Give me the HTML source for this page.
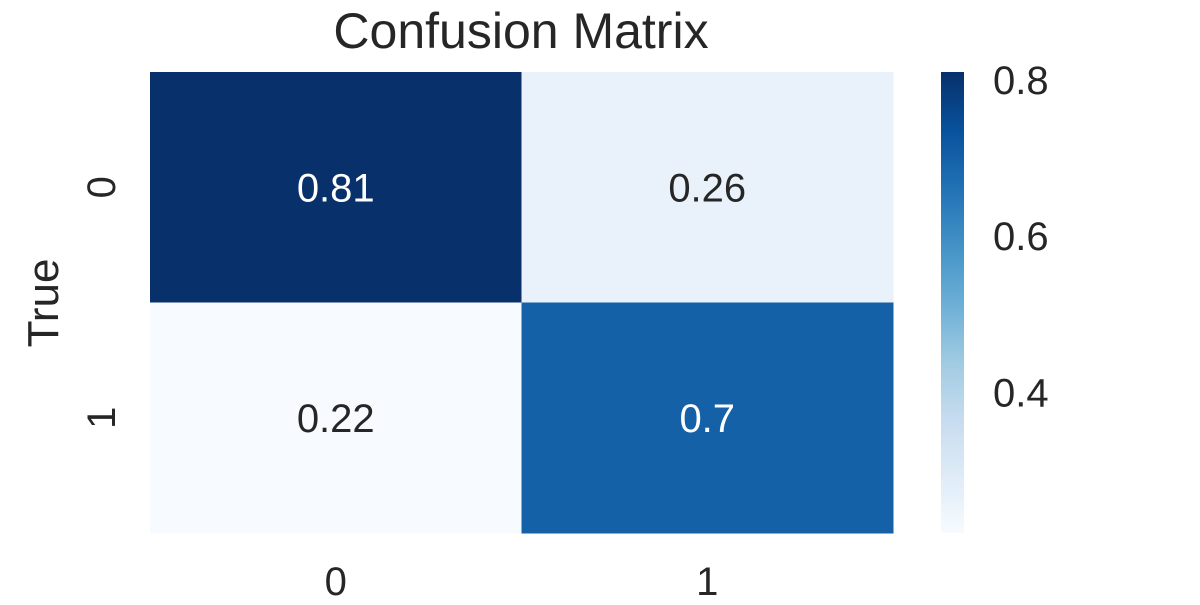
<!DOCTYPE html>
<html><head><meta charset="utf-8"><style>
body{margin:0;background:#fff;}
svg text{font-family:"Liberation Sans",Arial,sans-serif;fill:#262626;}
</style></head><body>
<svg id="chart" width="1200" height="600">
<defs><linearGradient id="cbgrad" x1="0" y1="1" x2="0" y2="0"></linearGradient></defs>
<text x="521" y="48" font-size="50" text-anchor="middle">Confusion Matrix</text>
<g id="cells"></g>
<g id="ticks"></g>
<text transform="translate(58,303) rotate(-90)" font-size="44" text-anchor="middle">True</text>
<rect x="941" y="72" width="23" height="461" fill="url(#cbgrad)"/>
<g id="cbticks"></g>
</svg>
<script>
const rowLabels=["0","1"];
const colLabels=["0","1"];
const values=[[0.81,0.26],[0.22,0.70]];
const cbTicks=[0.4,0.6,0.8];
const ns="http://www.w3.org/2000/svg";
const stops=["#f7fbff","#deebf7","#c6dbef","#9ecae1","#6baed6","#4292c6","#2171b5","#08519c","#08306b"];
const flat=values.flat();
const vmin=Math.min(...flat),vmax=Math.max(...flat);
function hex(h){return [1,3,5].map(i=>parseInt(h.substr(i,2),16));}
function blues(t){t=Math.max(0,Math.min(1,t));const p=t*(stops.length-1);const i=Math.min(Math.floor(p),stops.length-2);const f=p-i;const a=hex(stops[i]),b=hex(stops[i+1]);return "rgb("+a.map((v,k)=>Math.round(v+(b[k]-v)*f)).join(",")+")";}
const X0=150,X1=893,Y0=72,Y1=533;
const cw=(X1-X0)/colLabels.length,ch=(Y1-Y0)/rowLabels.length;
const cells=document.getElementById('cells'),ticks=document.getElementById('ticks');
values.forEach((row,r)=>row.forEach((v,c)=>{
 const t=(v-vmin)/(vmax-vmin);
 const rect=document.createElementNS(ns,'rect');
 rect.setAttribute('x',X0+c*cw);rect.setAttribute('y',Y0+r*ch);
 rect.setAttribute('width',cw+0.5);rect.setAttribute('height',ch+0.5);
 rect.setAttribute('fill',blues(t));
 
 
 cells.appendChild(rect);
 const tx=document.createElementNS(ns,'text');
 tx.setAttribute('x',X0+(c+0.5)*cw);tx.setAttribute('y',Y0+(r+0.5)*ch+14);
 tx.setAttribute('font-size','40');tx.setAttribute('text-anchor','middle');
 tx.style.fill=t>0.5?'#ffffff':'#262626';
 tx.textContent=String(v);
 
 
 cells.appendChild(tx);
}));
colLabels.forEach((l,c)=>{
 const tx=document.createElementNS(ns,'text');
 tx.setAttribute('x',X0+(c+0.5)*cw);tx.setAttribute('y',595);
 tx.setAttribute('font-size','40');tx.setAttribute('text-anchor','middle');
 tx.textContent=l;
 
 
 ticks.appendChild(tx);
});
rowLabels.forEach((l,r)=>{
 const tx=document.createElementNS(ns,'text');
 const cy=Y0+(r+0.5)*ch;
 tx.setAttribute('transform','translate(115,'+cy+') rotate(-90)');
 tx.setAttribute('font-size','40');tx.setAttribute('text-anchor','middle');
 tx.textContent=l;
 
 
 ticks.appendChild(tx);
});
const g=document.getElementById('cbgrad');
stops.forEach((s,i)=>{const st=document.createElementNS(ns,'stop');st.setAttribute('offset',i/(stops.length-1));st.setAttribute('stop-color',s);g.appendChild(st);});
const cbt=document.getElementById('cbticks');
cbTicks.forEach(v=>{
 const y=Y1-(v-vmin)/(vmax-vmin)*(Y1-Y0);
 const tx=document.createElementNS(ns,'text');
 tx.setAttribute('x',993);tx.setAttribute('y',y+14);
 tx.setAttribute('font-size','40');
 tx.textContent=v.toFixed(1);
 
 
 cbt.appendChild(tx);
});
</script>
</body></html>
